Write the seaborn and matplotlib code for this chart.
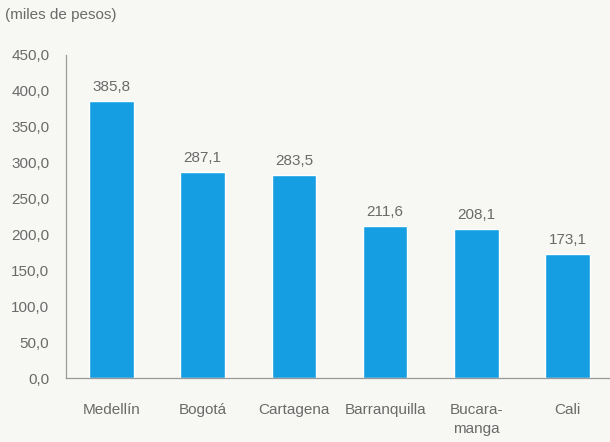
import matplotlib
matplotlib.use('Agg')
import matplotlib.pyplot as plt
import seaborn as sns
import pandas as pd
import numpy as np

# datos del gráfico
ciudades = ['Medellín', 'Bogotá', 'Cartagena', 'Barranquilla', 'Bucara-\nmanga', 'Cali']
valores = [385.8, 287.1, 283.5, 211.6, 208.1, 173.1]
ticks_y = [0, 50, 100, 150, 200, 250, 300, 350, 400, 450]

df = pd.DataFrame({'ciudad': ciudades, 'valor': valores})

sns.set_style('white')
plt.rcParams['font.family'] = ['Liberation Sans', 'DejaVu Sans']

gris = '#6a6a6a'
fondo = '#f7f7f4'
azul = '#159fe2'

fig = plt.figure(figsize=(6.1, 4.42), dpi=100, facecolor=fondo)
ax = fig.add_axes([66 / 610, 1 - 378 / 442, (613 - 66) / 610, (378 - 55) / 442])
ax.set_facecolor(fondo)

sns.barplot(data=df, x='ciudad', y='valor', color=azul, saturation=1,
            width=0.49, ax=ax)

ax.set_xlim(-0.5, 5.5)
ax.set_ylim(0, 450)
ax.set_xlabel('')
ax.set_ylabel('')

# etiquetas de valor
for i, v in enumerate(valores):
    ax.annotate(f'{v:.1f}'.replace('.', ','), (i, v), xytext=(0, 5),
                textcoords='offset points', ha='center', va='bottom',
                fontsize=11, color=gris)

# eje y
ax.set_yticks(ticks_y)
ax.set_yticklabels([f'{t:.1f}'.replace('.', ',') for t in ticks_y])
ax.tick_params(axis='y', direction='in', length=3, width=0.8, color='#999999',
               labelsize=11, labelcolor=gris, pad=12)

# eje x: marcas en los límites de categoría, etiquetas en el centro
ax.set_xticks(np.arange(0.5, 5, 1))
ax.set_xticklabels([])
ax.set_xticks(np.arange(len(ciudades)), minor=True)
ax.set_xticklabels(ciudades, minor=True, fontsize=11, color=gris,
                   linespacing=1.45)
ax.tick_params(axis='x', which='major', direction='in', length=4, width=0.8,
               color='#999999')
ax.tick_params(axis='x', which='minor', length=0, pad=18)

for s in ['top', 'right']:
    ax.spines[s].set_visible(False)
for s in ['left', 'bottom']:
    ax.spines[s].set_color('#999999')
    ax.spines[s].set_linewidth(0.9)

fig.text(5 / 610, 1 - 15 / 442, '(miles de pesos)', fontsize=11, color=gris,
         ha='left', va='center')

fig.savefig('out.png', dpi=100, facecolor=fondo)
